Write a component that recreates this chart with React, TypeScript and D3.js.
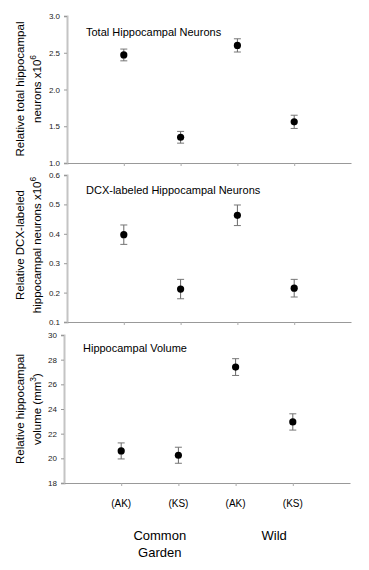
import { useRef, useEffect } from 'react';
import * as d3 from 'd3';

const groups = ['(AK)', '(KS)', '(AK)', '(KS)'];
const habitats = [['Common', 'Garden'], ['Wild']];

// total hippocampal neurons x10^6
const totalMean = [2.47, 1.35, 2.6, 1.56];
const totalErr = [0.08, 0.08, 0.09, 0.09];
// DCX-labeled neurons x10^6
const dcxMean = [0.397, 0.212, 0.463, 0.215];
const dcxErr = [0.033, 0.033, 0.035, 0.03];
// hippocampal volume mm^3
const volMean = [20.6, 20.25, 27.4, 22.95];
const volErr = [0.65, 0.65, 0.68, 0.66];

const totalTicks = [1.0, 1.5, 2.0, 2.5, 3.0];
const dcxTicks = [0.1, 0.2, 0.3, 0.4, 0.5, 0.6];
const volTicks = [18, 20, 22, 24, 26, 28, 30];

export default function App() {
  const svgRef = useRef<SVGSVGElement | null>(null);

  useEffect(() => {
    if (!svgRef.current) return;
    const svg = d3.select(svgRef.current);
    svg.selectAll('*').remove();

    const font = 'Arial, "Liberation Sans", sans-serif';

    const panels = [
      {
        mean: totalMean, err: totalErr, ticks: totalTicks, fmt: d3.format('.1f'),
        left: 67, right: 351, top: 16, bottom: 163,
        title: 'Total Hippocampal Neurons', titleY: 36,
        label: ['Relative total hippocampal', 'neurons x10'], sup: '6', labelY: 89,
      },
      {
        mean: dcxMean, err: dcxErr, ticks: dcxTicks, fmt: d3.format('.1f'),
        left: 67, right: 351, top: 175, bottom: 322,
        title: 'DCX-labeled Hippocampal Neurons', titleY: 194,
        label: ['Relative DCX-labeled', 'hippocampal neurons x10'], sup: '6', labelY: 245,
      },
      {
        mean: volMean, err: volErr, ticks: volTicks, fmt: d3.format('d'),
        left: 64, right: 350, top: 335, bottom: 483,
        title: 'Hippocampal Volume', titleY: 352,
        label: ['Relative hippocampal', 'volume (mm'], sup: '3', labelY: 409,
      },
    ];

    panels.forEach((p, pi) => {
      const x = d3.scaleLinear().domain([0, 5]).range([p.left, p.right]);
      const y = d3.scaleLinear()
        .domain([p.ticks[0], p.ticks[p.ticks.length - 1]])
        .range([p.bottom, p.top]);

      // y axis
      const ya = svg.append('g')
        .attr('transform', `translate(${p.left},0)`)
        .call(d3.axisLeft(y).tickValues(p.ticks).tickFormat(p.fmt as any).tickSize(3).tickPadding(4));
      ya.select('.domain').attr('stroke', '#c4c4c4').attr('stroke-width', 2);
      ya.selectAll('.tick line').attr('stroke', '#999');
      ya.selectAll('.tick text').attr('font-family', font).attr('font-size', 8).attr('fill', '#222');

      // x axis
      const xa = svg.append('g')
        .attr('transform', `translate(0,${p.bottom})`)
        .call(d3.axisBottom(x).tickValues([1, 2, 3, 4]).tickFormat(() => '').tickSize(3).tickSizeOuter(0));
      xa.select('.domain').attr('stroke', '#999');
      xa.selectAll('.tick line').attr('stroke', '#aaa');

      // title
      svg.append('text')
        .attr('x', x(0) + 19)
        .attr('y', p.titleY)
        .attr('font-family', font)
        .attr('font-size', 11)
        .attr('fill', '#000')
        .text(p.title);

      // y label
      const lab = svg.append('text')
        .attr('transform', `translate(0,${p.labelY}) rotate(-90)`)
        .attr('text-anchor', 'middle')
        .attr('font-family', font)
        .attr('font-size', 11.5)
        .attr('fill', '#000');
      lab.append('tspan').attr('x', 0).attr('y', 24).text(p.label[0]);
      lab.append('tspan').attr('x', 0).attr('y', 41).text(p.label[1]);
      lab.append('tspan').attr('dy', -5).attr('font-size', 8.5).text(p.sup);
      if (pi === 2) lab.append('tspan').attr('dy', 5).text(')');

      // error bars
      const g = svg.append('g');
      p.mean.forEach((m, i) => {
        const cx = x(i + 1);
        const e = p.err[i];
        g.append('line')
          .attr('x1', cx).attr('x2', cx)
          .attr('y1', y(m + e)).attr('y2', y(m - e))
          .attr('stroke', '#666').attr('stroke-width', 1);
        [m + e, m - e].forEach(v => {
          g.append('line')
            .attr('x1', cx - 3.5).attr('x2', cx + 3.5)
            .attr('y1', y(v)).attr('y2', y(v))
            .attr('stroke', '#777').attr('stroke-width', 1);
        });
        g.append('circle')
          .attr('cx', cx).attr('cy', y(m)).attr('r', 3.6)
          .attr('fill', '#000');
      });

      // category labels under last panel
      if (pi === 2) {
        groups.forEach((gname, i) => {
          svg.append('text')
            .attr('x', x(i + 1))
            .attr('y', 507)
            .attr('text-anchor', 'middle')
            .attr('font-family', font)
            .attr('font-size', 10)
            .attr('fill', '#000')
            .text(gname);
        });
        const hx = [(x(1) + x(2)) / 2 + 10, (x(3) + x(4)) / 2 + 10];
        habitats.forEach((h, hi) => {
          h.forEach((line, li) => {
            svg.append('text')
              .attr('x', hx[hi])
              .attr('y', 540 + li * 17)
              .attr('text-anchor', 'middle')
              .attr('font-family', font)
              .attr('font-size', 13)
              .attr('fill', '#000')
              .text(line);
          });
        });
      }
    });
  }, []);

  return (
    <svg
      ref={svgRef}
      width={369}
      height={570}
      style={{ position: 'absolute', left: 0, top: 0, background: '#fff' }}
    />
  );
}
